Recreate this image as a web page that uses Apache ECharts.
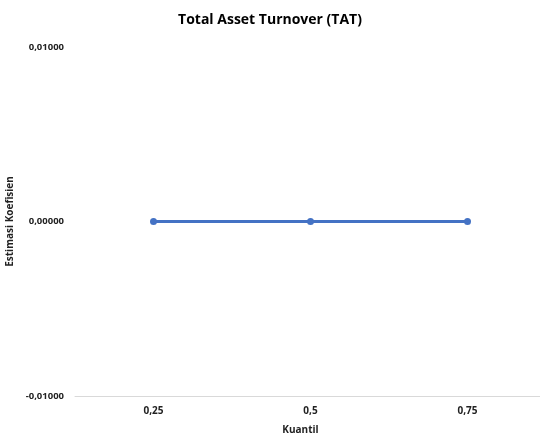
<!DOCTYPE html>
<html><head><meta charset="utf-8">
<script src="https://cdn.jsdelivr.net/npm/echarts@6/dist/echarts.min.js"></script>
<style>html,body{margin:0;padding:0;background:#fff}#c{width:540px;height:440px}</style>
</head><body><div id="c"></div>
<script>
const categories = ['0,25', '0,5', '0,75'];
const values = [0.0, 0.0, 0.0];
const yTicks = [-0.01, 0, 0.01];

const chart = echarts.init(document.getElementById('c'));
const font = 'Open Sans, Liberation Sans, sans-serif';
chart.setOption({
  animation: false,
  title: { text: 'Total Asset Turnover (TAT)', left: 265, top: 8, textAlign: 'center',
    textStyle: { fontFamily: font, fontSize: 14, fontWeight: 'bold', color: '#000' } },
  grid: { left: 75, width: 471, top: 47, bottom: 44, containLabel: false, outerBoundsMode: 'none' },
  xAxis: {
    type: 'category', data: categories, boundaryGap: true,
    name: 'Kuantil', nameLocation: 'middle', nameGap: 29,
    nameTextStyle: { fontFamily: font, fontSize: 10, fontWeight: 'bold', color: '#222', padding:[0,0,0,-20] },
    axisLine: { onZero: false, lineStyle: { color: '#d9d9d9', width: 1 } },
    axisTick: { show: false },
    axisLabel: { fontFamily: font, fontSize: 10, fontWeight: 'bold', color: '#222', margin: 10 }
  },
  yAxis: {
    type: 'value', min: yTicks[0], max: yTicks[2], interval: 0.01,
    name: 'Estimasi Koefisien', nameLocation: 'middle', nameGap: 55, nameRotate: 90,
    nameTextStyle: { fontFamily: font, fontSize: 10, fontWeight: 'bold', color: '#222' },
    axisLine: { show: false }, axisTick: { show: false }, splitLine: { show: false },
    axisLabel: { fontFamily: font, fontSize: 9.5, fontWeight: 'bold', color: '#222', margin: 11,
      formatter: v => (v < 0 ? '-' : '') + Math.abs(v).toFixed(5).replace('.', ',') }
  },
  series: [{
    type: 'line', data: values,
    lineStyle: { color: '#4472C4', width: 3 },
    itemStyle: { color: '#4472C4' },
    symbol: 'circle', symbolSize: 7
  }]
});
</script></body></html>
